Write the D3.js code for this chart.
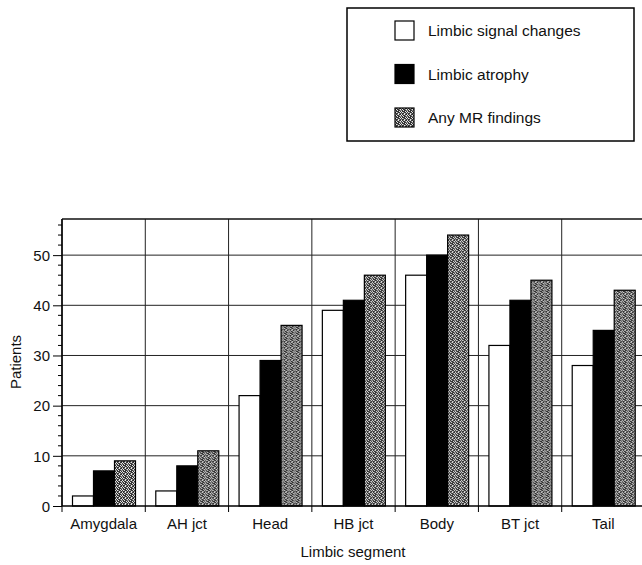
<!DOCTYPE html>
<html><head><meta charset="utf-8">
<script src="https://cdn.jsdelivr.net/npm/d3@7"></script>
<style>body{margin:0;background:#fff}svg{display:block}text{font-family:"Liberation Sans",Arial,sans-serif;fill:#111}</style>
</head><body><svg id="c" width="642" height="565"></svg>
<script>
const categories = ["Amygdala","AH jct","Head","HB jct","Body","BT jct","Tail"];
const seriesNames = ["Limbic signal changes","Limbic atrophy","Any MR findings"];
const signalChanges = [2,3,22,39,46,32,28];
const atrophy = [7,8,29,41,50,41,35];
const anyMR = [9,11,36,46,54,45,43];
const yTicks = [0,10,20,30,40,50];
const seriesValues = [signalChanges, atrophy, anyMR];

const svg = d3.select("#c");
const defs = svg.append("defs");
const pat = defs.append("pattern").attr("id","stip").attr("patternUnits","userSpaceOnUse").attr("width",6).attr("height",6);
pat.append("rect").attr("width",6).attr("height",6).attr("fill","#333");
[[0,0],[3,0],[1,1],[5,1],[2,2],[4,3],[0,3],[1,4],[3,5],[5,4]].forEach(([a,b])=>pat.append("rect").attr("x",a).attr("y",b).attr("width",1).attr("height",1).attr("fill","#e6e6e6"));
[[2,0],[4,1],[0,2],[5,2],[2,4],[0,5],[4,5]].forEach(([a,b])=>pat.append("rect").attr("x",a).attr("y",b).attr("width",1).attr("height",1).attr("fill","#8a8a8a"));
const fills = ["#fff","#000","url(#stip)"];

const L=62, R=645, T=219, B=506;
const x0 = d3.scaleBand().domain(categories).range([L,R]);
const x1 = d3.scaleBand().domain(d3.range(3)).range([10.5,73.5]);
const y = d3.scaleLinear().domain([0,57.2]).range([B,T]);

// grid
const g = svg.append("g");
g.selectAll("line.h").data(yTicks.filter(d=>d>0)).join("line")
 .attr("x1",L).attr("x2",R).attr("y1",d=>y(d)).attr("y2",d=>y(d)).attr("stroke","#222").attr("stroke-width",1);
g.selectAll("line.v").data(categories).join("line")
 .attr("x1",d=>x0(d)).attr("x2",d=>x0(d)).attr("y1",T).attr("y2",B).attr("stroke","#222").attr("stroke-width",1);
g.append("line").attr("x1",L).attr("x2",R).attr("y1",T).attr("y2",T).attr("stroke","#111").attr("stroke-width",1.5);

// bars
const rows = categories.map((c,i)=>({c, vals: seriesValues.map(s=>s[i])}));
const grp = svg.selectAll("g.cat").data(rows).join("g").attr("transform",d=>`translate(${x0(d.c)},0)`);
grp.selectAll("rect").data(d=>d.vals.map((v,k)=>({v,k}))).join("rect")
 .attr("x",d=>x1(d.k)).attr("width",x1.bandwidth())
 .attr("y",d=>y(d.v)).attr("height",d=>y(0)-y(d.v))
 .attr("fill",d=>fills[d.k]).attr("stroke","#000").attr("stroke-width",1.2);

// y axis
const yAxis = d3.axisLeft(y).tickValues(yTicks).tickSize(9).tickPadding(3).tickFormat(d3.format("d"));
const ya = svg.append("g").attr("transform",`translate(${L},0)`).call(yAxis);
ya.select(".domain").attr("d",`M0,${T}V${B}`).attr("stroke","#000").attr("stroke-width",1.5);
ya.selectAll("text").style("font-size","15px").attr("fill","#111").attr("dy","0.35em");
const minor = d3.range(0,57,2).filter(d=>d%10!==0);
svg.append("g").selectAll("line").data(minor).join("line")
 .attr("x1",L-4).attr("x2",L).attr("y1",d=>y(d)).attr("y2",d=>y(d)).attr("stroke","#000");

// x axis
const xa = svg.append("g").attr("transform",`translate(0,${B})`).call(d3.axisBottom(x0).tickSize(0).tickPadding(12));
xa.select(".domain").attr("d",`M${L},0H${R}`).attr("stroke","#000").attr("stroke-width",1.5);
xa.selectAll("text").style("font-size","15px").attr("fill","#111");
svg.append("g").selectAll("line").data(categories).join("line")
 .attr("x1",d=>x0(d)).attr("x2",d=>x0(d)).attr("y1",B).attr("y2",B+6).attr("stroke","#000");

// axis titles
svg.append("text").attr("x",353).attr("y",557).attr("text-anchor","middle").style("font-size","15px").text("Limbic segment");
svg.append("text").attr("transform","translate(21,362) rotate(-90)").attr("text-anchor","middle").style("font-size","15px").text("Patients");

// legend
svg.append("rect").attr("x",347).attr("y",8).attr("width",287).attr("height",133).attr("fill","#fff").attr("stroke","#000").attr("stroke-width",1.5);
const lg = svg.append("g").selectAll("g").data(seriesNames).join("g").attr("transform",(d,i)=>`translate(395,${21+i*43.5})`);
lg.append("rect").attr("width",19).attr("height",19).attr("fill",(d,i)=>fills[i]).attr("stroke","#000").attr("stroke-width",1.2);
lg.append("text").attr("x",33).attr("y",15).style("font-size","15.5px").text(d=>d);
</script></body></html>
